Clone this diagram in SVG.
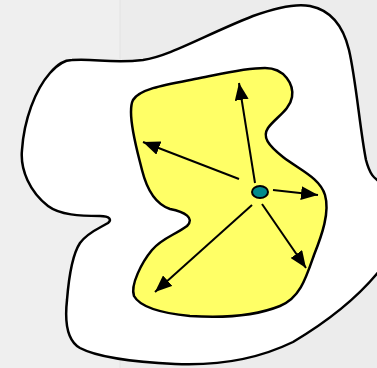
<svg xmlns="http://www.w3.org/2000/svg" width="377" height="368" viewBox="0 0 377 368">
<defs>
<marker id="ah" markerUnits="userSpaceOnUse" markerWidth="18" markerHeight="14" refX="17" refY="7" orient="auto"><path d="M0,0 L17,7 L0,14 Z" fill="#000"/></marker>
<style>
.blob{stroke:#000;stroke-width:2.5;stroke-linejoin:round}
.arr{stroke:#000;stroke-width:2;fill:none;marker-end:url(#ah)}
</style>
</defs>
<rect width="377" height="368" fill="#ececec"/>
<rect width="120" height="368" fill="#efefef"/>
<line x1="120" y1="0" x2="120" y2="368" stroke="#e2e2e2" stroke-width="1"/>
<g id="outer">
<path class="blob" fill="#fff" d="M72,60 C95,58 110,64 143,60 C170,56 205,35 253,16 C275,8 295,3 310,6 C330,10 343,25 349,50 C356,80 360,130 366,160 C370,175 374,178 380,182 L380,270 C360,295 330,320 293,342 C260,358 220,366 175,364 C130,362 95,356 80,348 C66,340 65,318 67,300 C69,275 72,255 80,243 C88,232 100,228 108,223 C112,220 110,216 100,216 C80,216 60,215 48,206 C30,192 20,170 22,150 C24,120 35,90 50,73 C58,64 64,60 72,60 Z"/>
</g>
<g id="inner">
<path class="blob" fill="#ffff66" d="M133,100 C140,88 170,84 200,78 C225,73 245,68 265,68 C285,68 294,85 292,97 C290,110 275,118 268,128 C262,137 268,145 283,157 C300,170 320,178 325,195 C330,212 322,235 314,255 C306,278 300,298 280,306 C255,316 220,318 190,316 C160,313 140,307 134,296 C130,285 142,262 152,250 C162,238 175,235 187,226 C195,218 185,212 170,209 C155,204 147,190 142,170 C137,150 131,130 131,112 C131,106 132,102 133,100 Z"/>
</g>
<g id="connectors">
<line class="arr" x1="255" y1="183" x2="239" y2="83"/>
<line class="arr" x1="239" y1="179" x2="143" y2="142"/>
<line class="arr" x1="273" y1="190" x2="318" y2="195"/>
<line class="arr" x1="262" y1="204" x2="306" y2="268"/>
<line class="arr" x1="252" y1="205" x2="155" y2="292"/>
</g>
<g id="center">
<ellipse cx="260" cy="192" rx="8" ry="6" fill="#008b8b" stroke="#000" stroke-width="2"/>
</g>
</svg>
